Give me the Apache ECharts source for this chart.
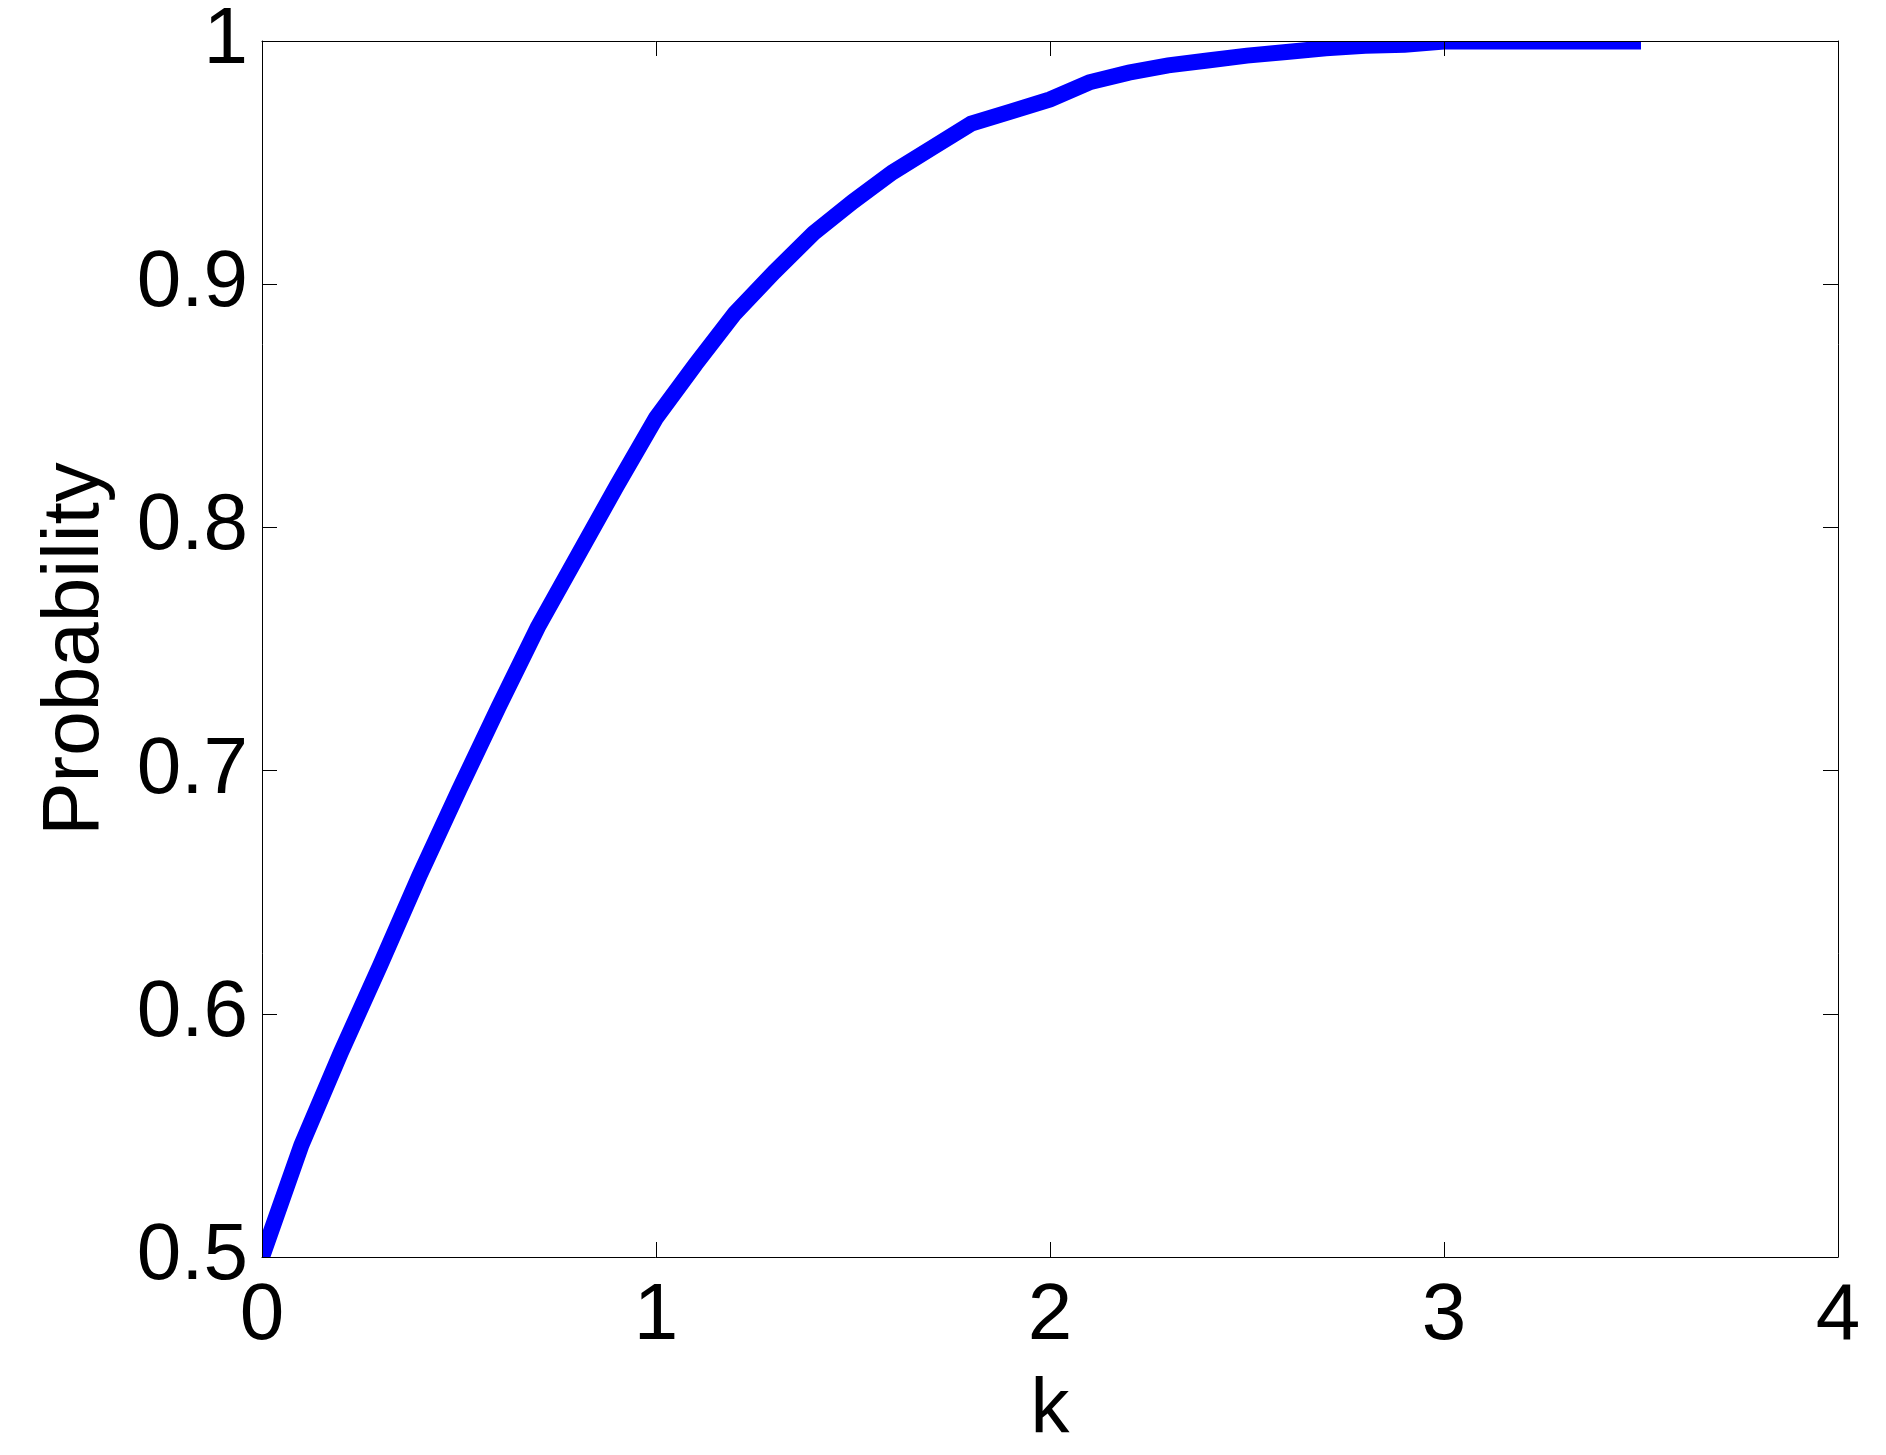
<!DOCTYPE html>
<html>
<head>
<meta charset="utf-8">
<title>Probability vs k</title>
<script src="https://cdn.jsdelivr.net/npm/echarts@6/dist/echarts.min.js"></script>
<style>
    html, body { margin: 0; padding: 0; background: #fff; }
    #main { width: 1886px; height: 1455px; }
</style>
</head>
<body>
<div id="main"></div>
<script>
// values
var kValues = [0, 0.1, 0.2, 0.3, 0.4, 0.5, 0.6, 0.7, 0.8, 0.9,
    1.0, 1.1, 1.2, 1.3, 1.4, 1.5, 1.6, 1.7, 1.8, 1.9,
    2.0, 2.1, 2.2, 2.3, 2.4, 2.5, 2.6, 2.7, 2.8, 2.9,
    3.0, 3.1, 3.2, 3.3, 3.4, 3.5];
var probValues = [0.500, 0.546, 0.584, 0.620, 0.657, 0.692, 0.726, 0.759, 0.788, 0.817,
    0.845, 0.867, 0.888, 0.905, 0.921, 0.934, 0.946, 0.956, 0.966, 0.971,
    0.976, 0.983, 0.987, 0.990, 0.992, 0.994, 0.9955, 0.997, 0.998, 0.9985,
    0.9998, 0.9998, 0.9998, 0.9998, 0.9998, 0.9998];
var xTicks = [0, 1, 2, 3, 4];
var yTicks = [0.5, 0.6, 0.7, 0.8, 0.9, 1];

var myChart = echarts.init(document.getElementById('main'));

var font = "'Liberation Sans', Arial, Helvetica, sans-serif";
var gridLeft = 262, gridTop = 41, gridW = 1576, gridH = 1216;

var points = [];
for (var i = 0; i < kValues.length; i++) {
    points.push([kValues[i], probValues[i]]);
}

// shared axis look: black thin frame, ticks pointing inward
function frameAxis(extra) {
    var a = {
        type: 'value',
        z: 10,
        axisLine: { show: true, onZero: false, lineStyle: { color: '#000', width: 1 } },
        axisTick: { show: true, inside: true, length: 15, lineStyle: { color: '#000', width: 1 } },
        splitLine: { show: false },
        axisLabel: { show: false }
    };
    for (var key in extra) a[key] = extra[key];
    return a;
}

var options = {
    backgroundColor: '#fff',
    animation: false,
    grid: { left: gridLeft, top: gridTop, width: gridW, height: gridH, containLabel: false },
    xAxis: [
        frameAxis({
            position: 'bottom',
            min: xTicks[0], max: xTicks[xTicks.length - 1], interval: 1,
            name: 'k', nameLocation: 'middle', nameGap: 115,
            nameTextStyle: { fontFamily: font, fontSize: 78, color: '#000' },
            axisLabel: { show: true, margin: 20, fontFamily: font, fontSize: 80, color: '#000' }
        }),
        frameAxis({
            position: 'top',
            min: xTicks[0], max: xTicks[xTicks.length - 1], interval: 1
        })
    ],
    yAxis: [
        frameAxis({
            position: 'left',
            min: yTicks[0], max: yTicks[yTicks.length - 1], interval: 0.1,
            name: 'Probability', nameLocation: 'middle', nameGap: 146,
            nameTextStyle: { fontFamily: font, fontSize: 80, color: '#000' },
            axisLabel: {
                show: true, margin: 14, fontFamily: font, fontSize: 80, color: '#000',
                formatter: function (v) { return String(Math.round(v * 10) / 10); }
            }
        }),
        frameAxis({
            position: 'right',
            min: yTicks[0], max: yTicks[yTicks.length - 1], interval: 0.1
        })
    ],
    // white strips just outside the box so the thick line looks clipped at the frame
    graphic: [
        { type: 'rect', z: 5, silent: true, shape: { x: 250, y: 15, width: 1600, height: gridTop - 15 }, style: { fill: '#fff' } },
        { type: 'rect', z: 5, silent: true, shape: { x: 250, y: gridTop + gridH, width: 1600, height: 16 }, style: { fill: '#fff' } },
        { type: 'rect', z: 5, silent: true, shape: { x: 250, y: gridTop, width: gridLeft - 250, height: gridH }, style: { fill: '#fff' } }
    ],
    series: [{
        type: 'line',
        data: points,
        showSymbol: false,
        smooth: false,
        z: 2,
        lineStyle: { color: '#0000ff', width: 16, cap: 'butt', join: 'miter' }
    }]
};
myChart.setOption(options);
</script>
</body>
</html>
